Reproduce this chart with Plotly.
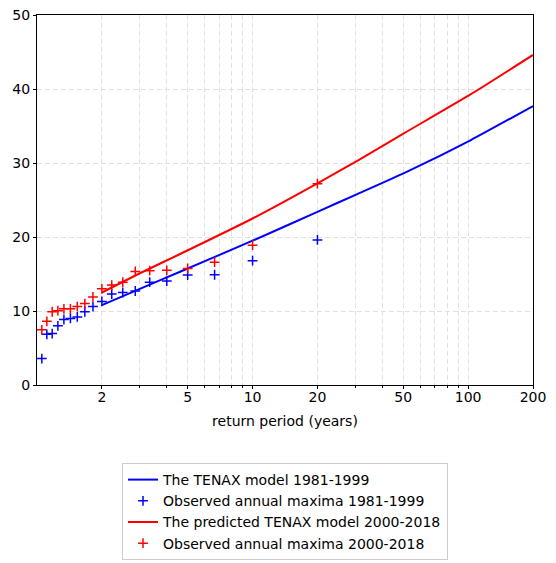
import plotly.graph_objects as go

# Observed annual maxima: return periods (Weibull plotting positions) and values
obs_T = [20.0, 10.0, 6.667, 5.0, 4.0, 3.333, 2.857, 2.5, 2.222, 2.0,
         1.818, 1.667, 1.538, 1.429, 1.333, 1.25, 1.176, 1.111, 1.053]
obs_1981_1999 = [19.6, 16.8, 14.9, 14.85, 14.05, 13.9, 12.7, 12.5, 12.3, 11.3,
                 10.6, 9.9, 9.2, 9.0, 8.85, 8.0, 6.95, 6.85, 3.57]
obs_2000_2018 = [27.2, 18.9, 16.6, 15.75, 15.5, 15.45, 15.35, 13.9, 13.5, 13.0,
                 11.9, 11.0, 10.6, 10.3, 10.3, 10.05, 9.9, 8.6, 7.45]

# Model curves
model_T = [2, 3, 4.61, 10, 20, 30.6, 51, 103, 200]
model_1981_1999 = [10.8, 13.0, 15.3, 19.5, 23.4, 25.8, 28.7, 33.1, 37.7]
model_2000_2018 = [12.5, 15.1, 17.7, 22.5, 27.25, 30.3, 34.1, 39.3, 44.6]

x_ticks = [2, 5, 10, 20, 50, 100, 200]
x_minor = [3, 4, 6, 7, 8, 9, 30, 40, 60, 70, 80, 90]
y_ticks = [0, 10, 20, 30, 40, 50]

BLUE = "#0000ff"
RED = "#ff0000"

fig = go.Figure()
fig.add_trace(go.Scatter(x=model_T, y=model_1981_1999, mode="lines",
                         line=dict(color=BLUE, width=2, shape="spline", smoothing=0.5),
                         name="The TENAX model 1981-1999"))
fig.add_trace(go.Scatter(x=obs_T, y=obs_1981_1999, mode="markers",
                         marker=dict(symbol="cross-thin", size=7,
                                     line=dict(color=BLUE, width=1.5), color=BLUE),
                         name="Observed annual maxima 1981-1999"))
fig.add_trace(go.Scatter(x=model_T, y=model_2000_2018, mode="lines",
                         line=dict(color=RED, width=2, shape="spline", smoothing=0.5),
                         name="The predicted TENAX model 2000-2018"))
fig.add_trace(go.Scatter(x=obs_T, y=obs_2000_2018, mode="markers",
                         marker=dict(symbol="cross-thin", size=7,
                                     line=dict(color=RED, width=1.5), color=RED),
                         name="Observed annual maxima 2000-2018"))

grid_col = "#e0e0e0"
grid_dash = "5px,3px"
fig.update_layout(
    width=556, height=563,
    margin=dict(l=37, r=23, t=15, b=178, autoexpand=False),
    paper_bgcolor="white", plot_bgcolor="white",
    font=dict(family="DejaVu Sans", size=14, color="black"),
    showlegend=True,
    legend=dict(x=0.5, xanchor="center", y=1 - 463 / 563, yanchor="top",
                yref="container",
                bordercolor="#cccccc", borderwidth=1, bgcolor="white",
                font=dict(size=14), tracegroupgap=0),
    xaxis=dict(type="log", range=[0, 2.30103],
               tickvals=x_ticks, ticktext=[str(v) for v in x_ticks],
               ticks="outside", ticklen=3, tickcolor="black",
               ticklabelstandoff=-4,
               showline=True, linecolor="black", linewidth=1, mirror=True,
               showgrid=True, gridcolor=grid_col, griddash=grid_dash, gridwidth=1,
               minor=dict(tickvals=x_minor, ticks="outside", ticklen=2,
                          tickcolor="black", showgrid=True, gridcolor=grid_col,
                          griddash=grid_dash, gridwidth=1),
               zeroline=False,
               title=dict(text="return period (years)", standoff=12,
                          font=dict(size=14))),
    yaxis=dict(range=[0, 50], tickvals=y_ticks,
               ticks="outside", ticklen=3, tickcolor="black",
               showline=True, linecolor="black", linewidth=1, mirror=True,
               showgrid=True, gridcolor=grid_col, griddash=grid_dash, gridwidth=1,
               zeroline=False),
)

fig.write_html("out.html")
